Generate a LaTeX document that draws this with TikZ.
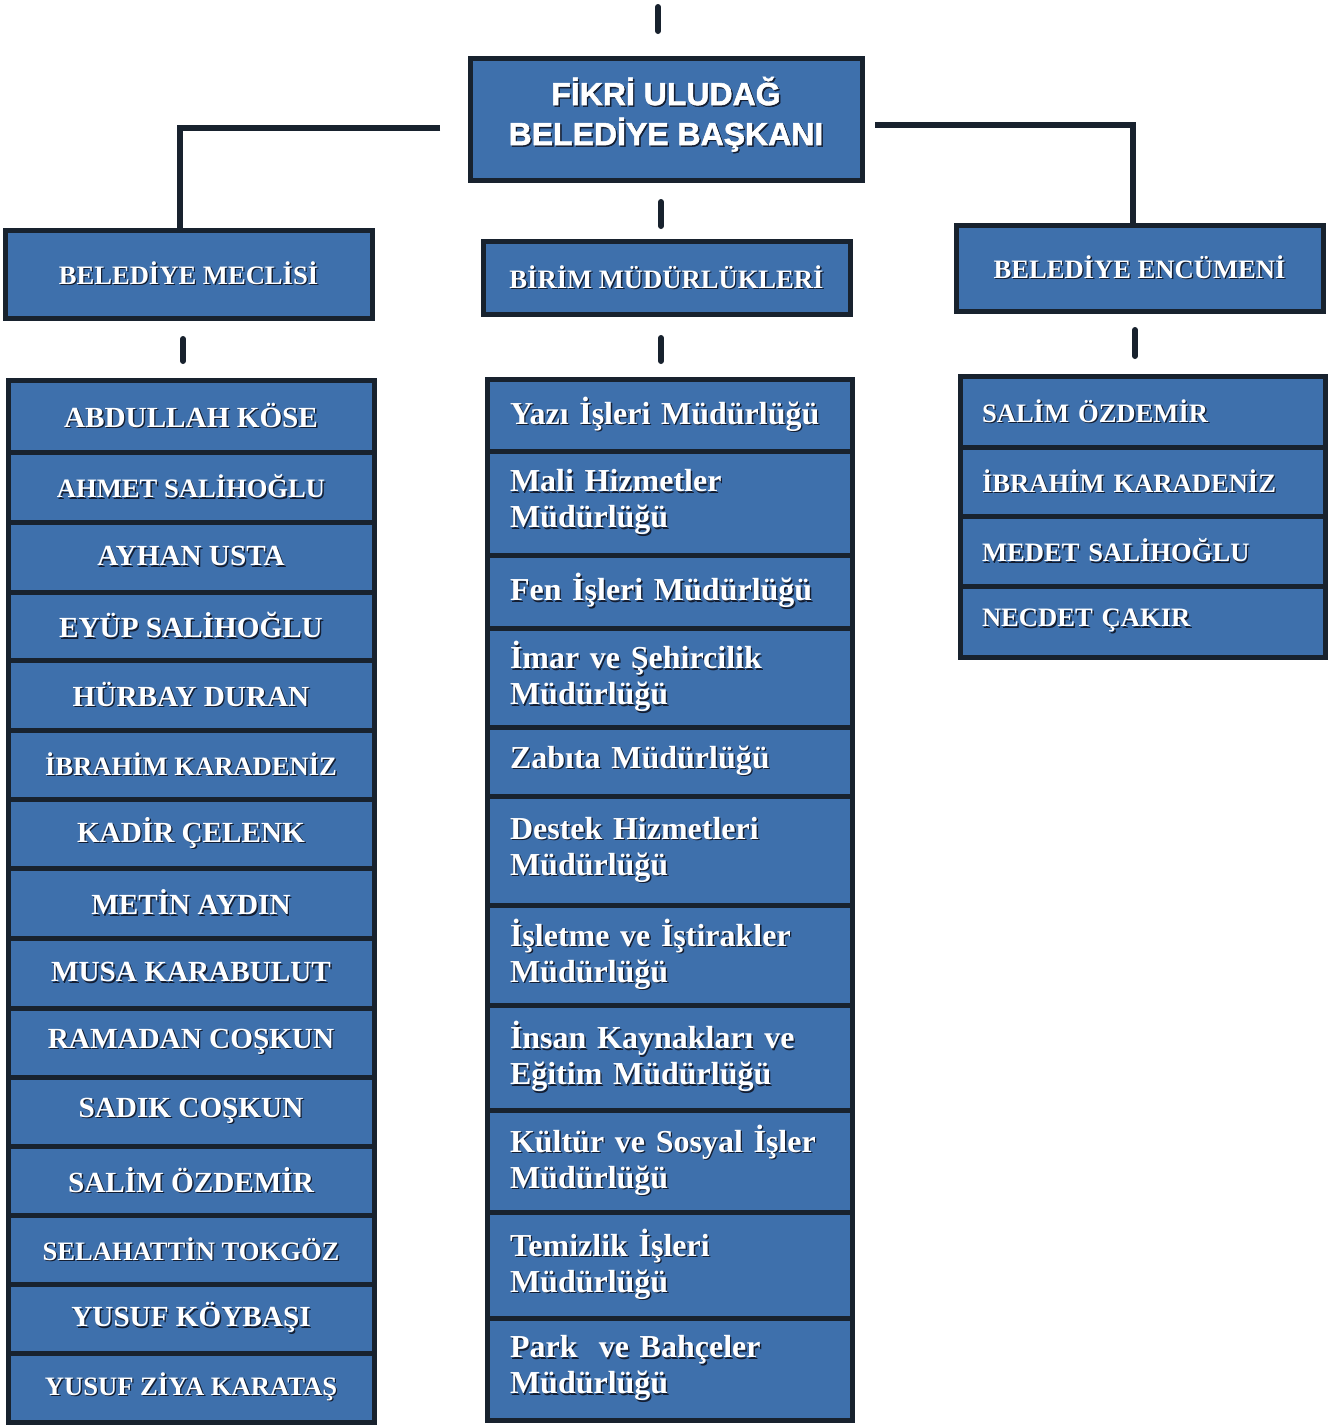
\documentclass[tikz,border=0pt]{standalone}
\usepackage{fontspec}
\setmainfont{Liberation Serif}
\newfontfamily\hsans{Liberation Sans}[FakeBold=1.6]
\definecolor{boxblue}{RGB}{62,112,172}
\definecolor{boxline}{RGB}{24,34,46}
\definecolor{shadowc}{RGB}{20,30,50}
\newcommand\shd[1]{\leavevmode\rlap{\kern0.7pt\raisebox{-0.7pt}{\color{shadowc}#1}}\hbox{#1}}
\begin{document}
\begin{tikzpicture}[x=0.5pt,y=-0.5pt,
  bx/.style 2 args={draw=boxline, line width=2.5pt, fill=boxblue, text=white,
    minimum width=#1*0.5pt, minimum height=#2*0.5pt, inner sep=0pt, font=\bfseries},
  lrow/.style={bx={366}{#1}, font=\bfseries\fontsize{14.6}{17}\selectfont},
  lrows/.style={bx={366}{#1}, font=\bfseries\fontsize{13.3}{16}\selectfont},
  crow/.style={bx={365}{#1}, text width=159.5pt, inner xsep=11.5pt, align=left,
    font=\bfseries\fontsize{16}{18}\selectfont},
  rrow/.style={bx={365}{#1}, text width=160.5pt, inner xsep=11pt, align=left,
    font=\bfseries\fontsize{13.3}{16}\selectfont},
  hdr/.style 2 args={bx={#1}{#2}, font=\bfseries\fontsize{13.3}{16}\selectfont},
  conn/.style={draw=boxline, line width=3pt},
  stub/.style={draw=boxline, line width=3pt, line cap=round}]
\useasboundingbox[fill=white] (0,0) rectangle (1333,1425);

% top
\node[bx={392}{122}, align=center, font=\hsans\bfseries\fontsize{16}{20}\selectfont] (top) at (666,119)
  {\shd{FİKRİ ULUDAĞ}\\\shd{BELEDİYE BAŞKANI}\rule[-8pt]{0pt}{0pt}};

% headers
\node[hdr={367}{88}] (meclis) at (188.5,274) {\shd{BELEDİYE MECLİSİ}};
\node[hdr={367}{73}] (birim) at (666.5,277.5) {\shd{BİRİM MÜDÜRLÜKLERİ}};
\node[hdr={367}{86}] (encum) at (1139.5,268) {\shd{BELEDİYE ENCÜMENİ}};

% connectors
\coordinate (t1) at (658,7);
\coordinate (t2) at (658,31);
\draw[stub] (t1) -- (t2);
\coordinate (lc) at (440,128);
\coordinate (lk) at (180,128);
\draw[conn] (lc) -- (lk) -- (lk |- meclis.north);
\coordinate (rc) at (875,125);
\coordinate (rk) at (1133,125);
\draw[conn] (rc) -- (rk) -- (rk |- encum.north);
\coordinate (c1) at (661,202);
\coordinate (c2) at (661,226);
\draw[stub] (c1) -- (c2);
\coordinate (s1a) at (183,339);
\coordinate (s1b) at (183,361);
\draw[stub] (s1a) -- (s1b);
\coordinate (s2a) at (661,338);
\coordinate (s2b) at (661,361);
\draw[stub] (s2a) -- (s2b);
\coordinate (s3a) at (1135,330);
\coordinate (s3b) at (1135,356);
\draw[stub] (s3a) -- (s3b);

% left list
\node[lrow=72] (m1) at (191,416) {\shd{ABDULLAH KÖSE}};
\node[lrows=70] (m2) at (191,487) {\shd{AHMET SALİHOĞLU}};
\node[lrow=70] (m3) at (191,557) {\shd{AYHAN USTA}};
\node[lrow=68] (m4) at (191,626) {\shd{EYÜP SALİHOĞLU}};
\node[lrow=70] (m5) at (191,695) {\shd{HÜRBAY DURAN}};
\node[lrows=69] (m6) at (191,764.5) {\shd{İBRAHİM KARADENİZ}};
\node[lrow=69] (m7) at (191,833.5) {\shd{KADİR ÇELENK}};
\node[lrow=70] (m8) at (191,903) {\shd{METİN AYDIN}};
\node[lrow=70] (m9) at (191,973) {\shd{MUSA KARABULUT}};
\node[lrow=69] (m10) at (191,1042.5) {\shd{RAMADAN COŞKUN}};
\node[lrow=69] (m11) at (191,1111.5) {\shd{SADIK COŞKUN}};
\node[lrow=69] (m12) at (191,1180.5) {\shd{SALİM ÖZDEMİR}};
\node[lrows=69] (m13) at (191,1249.5) {\shd{SELAHATTİN TOKGÖZ}};
\node[lrow=69] (m14) at (191,1318.5) {\shd{YUSUF KÖYBAŞI}};
\node[lrows=69] (m15) at (191,1387.5) {\shd{YUSUF ZİYA KARATAŞ}};

% center list
\node[crow=72] (b1) at (669.5,415) {\shd{Yazı İşleri Müdürlüğü}};
\node[crow=104] (b2) at (669.5,503) {\shd{Mali Hizmetler}\\\shd{Müdürlüğü}};
\node[crow=73] (b3) at (669.5,591.5) {\shd{Fen İşleri Müdürlüğü}};
\node[crow=99] (b4) at (669.5,677.5) {\shd{İmar ve Şehircilik}\\\shd{Müdürlüğü}};
\node[crow=69] (b5) at (669.5,761.5) {\shd{Zabıta Müdürlüğü}};
\node[crow=109] (b6) at (669.5,850.5) {\shd{Destek Hizmetleri}\\\shd{Müdürlüğü}};
\node[crow=100] (b7) at (669.5,955) {\shd{İşletme ve İştirakler}\\\shd{Müdürlüğü}};
\node[crow=105] (b8) at (669.5,1057.5) {\shd{İnsan Kaynakları ve}\\\shd{Eğitim Müdürlüğü}};
\node[crow=102] (b9) at (669.5,1161) {\shd{Kültür ve Sosyal İşler}\\\shd{Müdürlüğü}};
\node[crow=106] (b10) at (669.5,1265) {\shd{Temizlik İşleri}\\\shd{Müdürlüğü}};
\node[crow=102] (b11) at (669.5,1369) {\shd{Park\ \ ve Bahçeler}\\\shd{Müdürlüğü}};

% right list
\node[rrow=71] (e1) at (1142.5,411.5) {\shd{SALİM ÖZDEMİR}};
\node[rrow=69] (e2) at (1142.5,481.5) {\shd{İBRAHİM KARADENİZ}};
\node[rrow=70] (e3) at (1142.5,551) {\shd{MEDET SALİHOĞLU}};
\node[rrow=71] (e4) at (1142.5,621.5) {\shd{NECDET ÇAKIR}};
\end{tikzpicture}
\end{document}
